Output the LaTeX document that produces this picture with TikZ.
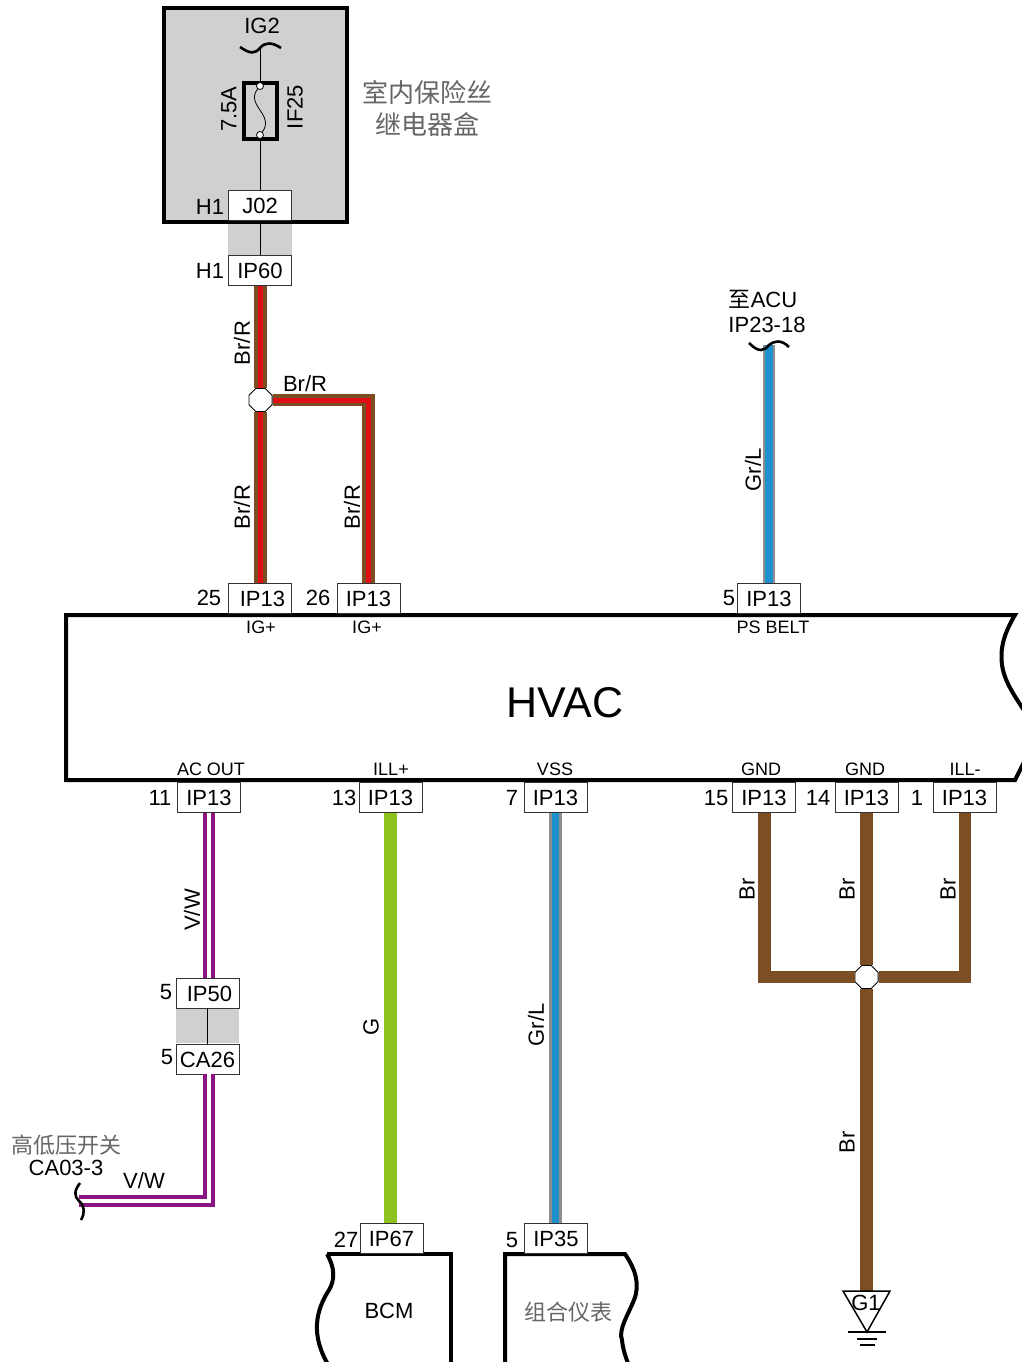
\documentclass[tikz,border=0pt]{standalone}
\usepackage{fontspec}
\usepackage{xcolor}
\usepackage{tikz}
\usetikzlibrary{shapes,positioning}
\setmainfont{Liberation Sans}
\newfontfamily\cnfont{Noto Sans CJK SC}
\definecolor{wirebrown}{RGB}{124,78,36}
\definecolor{wirered}{RGB}{222,16,22}
\definecolor{wireblue}{RGB}{30,144,205}
\definecolor{wiregray}{RGB}{142,142,142}
\definecolor{wirepurple}{RGB}{140,20,130}
\definecolor{wiregreen}{RGB}{140,195,30}
\definecolor{boxgray}{RGB}{208,208,208}
\begin{document}
\begin{tikzpicture}[x=1pt,y=-1pt,
	every node/.style = {font=\fontsize{22}{25}\selectfont, inner sep=0pt},
	conn/.style = {draw=black!80, line width=0.7pt, fill=white, minimum width=63pt, minimum height=30pt, text height=17pt},
	small/.style = {font=\fontsize{18}{20}\selectfont},
	side/.style = {rotate=90},
	cnlabel/.style = {font=\cnfont\fontsize{26}{30}\selectfont, text=black!60},
	joint/.style = {regular polygon, regular polygon sides=8, draw, fill=white, line width=0.9pt, minimum size=25pt},
	brred/.style = {preaction={draw=wirebrown, line width=12.5pt}, draw=wirered, line width=5pt},
	grblue/.style = {preaction={draw=wiregray, line width=12.5pt}, draw=wireblue, line width=7.5pt},
	purplewhite/.style = {preaction={draw=wirepurple, line width=12.5pt}, draw=white, line width=4pt},
	greenwire/.style = {draw=wiregreen, line width=12.5pt},
	brownwire/.style = {draw=wirebrown, line width=12.5pt},
	outline/.style = {draw, line width=4pt, line join=miter},
	tilde/.style = {draw, line width=2.6pt}]
	\useasboundingbox (0,0) rectangle (1022,1362);

	\fill[boxgray] (228,222) rectangle (292,255);
	\draw[outline, fill=boxgray] (164,8) rectangle (347,222);
	\fill[boxgray] (176,1009) rectangle (239,1043);
	\draw[outline] (1030,720) .. controls (1018,700) and (1005,685) .. (1002,665) .. controls (1000,650) and (1003,635) .. (1015,615) -- (66,615) -- (66,780) -- (1015,780) -- (1030,750);
	\draw[outline] (327,1254) -- (451,1254) -- (451,1366);
	\draw[outline] (327,1254) .. controls (335,1268) and (335,1280) .. (329,1290) .. controls (316,1310) and (310,1335) .. (329,1366);
	\draw[outline] (505,1366) -- (505,1254) -- (625,1254) .. controls (636,1270) and (640,1285) .. (634,1300) .. controls (628,1315) and (618,1330) .. (622,1340) .. controls (623,1350) and (626,1358) .. (629,1366);

	\node (ig2txt) at (262,26) {IG2};
	\coordinate (ig2) at (260,48);
	\node (fuse) [draw, line width=3.5pt, minimum width=33pt, minimum height=56pt] at (260.5,111) {};
	\node (fusea) [circle, draw, fill=white, line width=0.8pt, minimum size=7pt] at (260,86) {};
	\node (fuseb) [circle, draw, fill=white, line width=0.8pt, minimum size=7pt] at (260,135) {};
	\node (amps) [side] at (229,109) {7.5A};
	\node (if25) [side] at (295,107) {IF25};
	\node (boxa) [cnlabel] at (427,93) {室内保险丝};
	\node (boxb) [cnlabel] at (427,125) {继电器盒};
	\node (j02) [conn] at (260,205.5) {J02};
	\node (ip60) [conn] at (260,270.5) {IP60};
	\node (pina) at (210,207) {H1};
	\node (pinb) at (210,271) {H1};

	\node (jointa) [joint] at (260.5,400) {};
	\node (ip13a) [conn] at (259.5,598) {\hspace{6pt}IP13};
	\node (ip13b) [conn] at (368.5,598) {IP13};
	\node (ip13c) [conn] at (769,598) {IP13};
	\node (pin25) at (209,598) {25};
	\node (pin26) at (318,598) {26};
	\node (pin5c) at (729,598) {5};
	\node (igp) [small] at (261,627) {IG+};
	\node (igq) [small] at (367,627) {IG+};
	\node (belt) [small] at (773,627) {PS BELT};
	\node (hvac) [font=\fontsize{43}{46}\selectfont] at (565,703) {HVAC};
	\node (acu) at (763,299) {{\cnfont 至}ACU};
	\node (acupin) at (767,325) {IP23-18};
	\coordinate (acuend) at (769,345);
	\node (brra) [side] at (242,343) {Br/R};
	\node (brrb) [side] at (242,507) {Br/R};
	\node (brrc) [side] at (352,507) {Br/R};
	\node (brrd) at (305,384) {Br/R};
	\node (grla) [side] at (753,470) {Gr/L};

	\node (acout) [small] at (211,769) {AC OUT};
	\node (illp) [small] at (391,769) {ILL+};
	\node (vss) [small] at (555,769) {VSS};
	\node (gnda) [small] at (761,769) {GND};
	\node (gndb) [small] at (865,769) {GND};
	\node (illm) [small] at (965,769) {ILL-};
	\node (ip13d) [conn] at (209,797.5) {IP13};
	\node (ip13e) [conn] at (390.5,797.5) {IP13};
	\node (ip13f) [conn] at (555.5,797.5) {IP13};
	\node (ip13g) [conn] at (764,797.5) {IP13};
	\node (ip13h) [conn] at (866.5,797.5) {IP13};
	\node (ip13i) [conn] at (964.5,797.5) {IP13};
	\node (pin11) at (160,798) {11};
	\node (pin13) at (344,798) {13};
	\node (pin7) at (512,798) {7};
	\node (pin15) at (716,798) {15};
	\node (pin14) at (818,798) {14};
	\node (pin1) at (917,798) {1};

	\node (ip50) [conn] at (207.5,993) {\hspace{4pt}IP50};
	\node (ca26) [conn] at (207.5,1059) {CA26};
	\node (pin5d) at (166,992) {5};
	\node (pin5e) at (167,1057) {5};
	\node (vwa) [side] at (192,910) {V/W};
	\node (vwb) at (144,1181) {V/W};
	\node (switcha) [cnlabel, font=\cnfont\fontsize{22}{24}\selectfont] at (66,1145) {高低压开关};
	\node (switchb) at (66,1168) {CA03-3};
	\coordinate (switchend) at (79,1201);
	\coordinate (bend) at (209,1201);

	\node (ip67) [conn] at (391.5,1238) {IP67};
	\node (ip35) [conn] at (556,1238) {IP35};
	\node (pin27) at (346,1240) {27};
	\node (pin5f) at (512,1240) {5};
	\node (bcm) at (389,1311) {BCM};
	\node (meter) [cnlabel, font=\cnfont\fontsize{22}{26}\selectfont] at (568,1312) {组合仪表};
	\node (gwire) [side] at (371,1027) {G};
	\node (grlb) [side] at (536,1025) {Gr/L};

	\node (jointb) [joint] at (866.5,977) {};
	\coordinate (cornera) at (764.5,977);
	\coordinate (cornerb) at (965,977);
	\coordinate (gndtop) at (866.5,1291);
	\node (bra) [side] at (747,889) {Br};
	\node (brb) [side] at (847,889) {Br};
	\node (brc) [side] at (948,889) {Br};
	\node (brd) [side] at (847,1142) {Br};
	\node (g1) at (866,1303) {G1};
	\coordinate (gndtip) at (867,1332);

	\draw[line width=0.8pt] (ig2) -- (fusea);
	\draw[line width=0.8pt] (fusea) .. controls (245,105) and (275,115) .. (fuseb);
	\draw[line width=0.8pt] (fuseb) -- (j02);
	\draw[line width=0.8pt] (j02) -- (ip60);
	\draw[line width=0.8pt] (ip50) -- (ca26);

	\draw[brred] (jointa |- ip60.south) -- (jointa);
	\draw[brred] (jointa) -- (jointa |- ip13a.north);
	\draw[brred] (jointa) -| (ip13b.north);
	\draw[grblue] (acuend) -- (acuend |- ip13c.north);
	\draw[purplewhite] (ip13d.south) -- (ip13d.south |- ip50.north);
	\draw[purplewhite] (bend |- ca26.south) -- (bend) -- (switchend);
	\draw[greenwire] (ip13e.south) -- (ip13e.south |- ip67.north);
	\draw[grblue] (ip13f.south) -- (ip13f.south |- ip35.north);
	\draw[brownwire] (jointb) -- (cornera) -- (cornera |- ip13g.south);
	\draw[brownwire] (jointb) -- (jointb |- ip13h.south);
	\draw[brownwire] (jointb) -- (cornerb) -- (cornerb |- ip13i.south);
	\draw[brownwire] (jointb) -- (gndtop);

	\draw[tilde, shift={(ig2)}] (-20,-1) .. controls (-10,6) and (-5,6) .. (0,0) .. controls (5,-6) and (12,-6) .. (21,0);
	\draw[tilde, shift={(acuend)}] (-20,-2) .. controls (-10,8) and (-5,6) .. (0,0) .. controls (5,-4) and (12,-6) .. (20,2);
	\draw[tilde, shift={(switchend)}] (1,-18) .. controls (-5,-10) and (-5,-5) .. (0,0) .. controls (6,5) and (6,12) .. (2,19);

	\draw[line width=1.5pt] (843,1291) -- (890,1291) -- (gndtip) -- cycle;
	\draw[line width=1.6pt] (848,1332) -- (886,1332);
	\draw[line width=1.6pt] (857,1339) -- (877,1339);
	\draw[line width=1.6pt] (860,1345) -- (875,1345);
\end{tikzpicture}
\end{document}
